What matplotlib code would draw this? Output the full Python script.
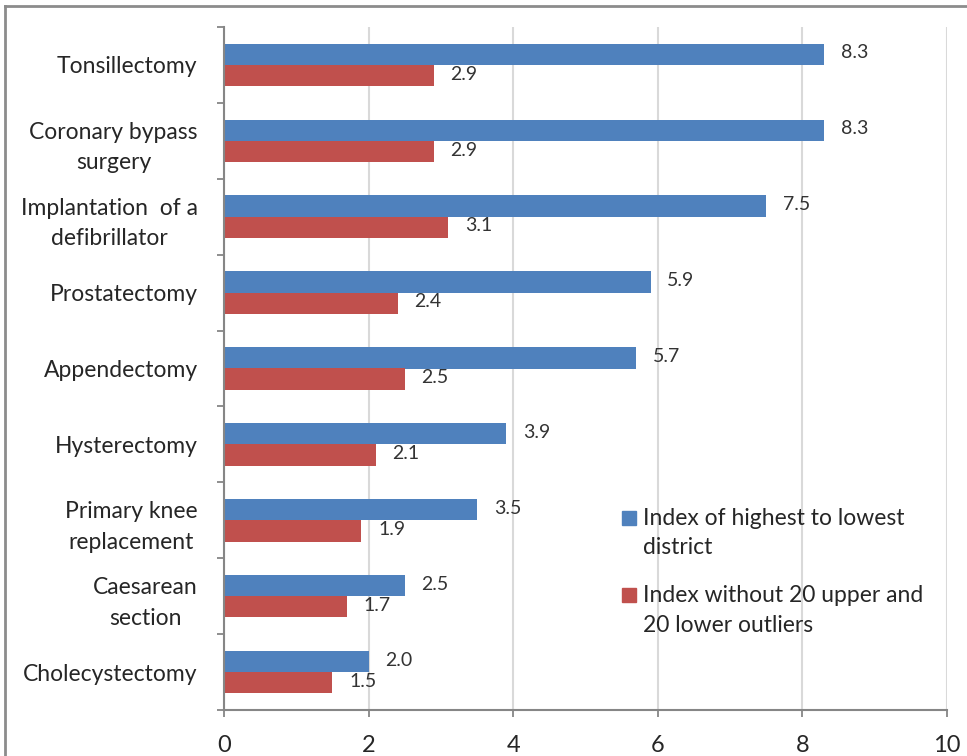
import numpy as np
import matplotlib
matplotlib.use('Agg')
import matplotlib.pyplot as plt
from matplotlib.lines import Line2D
from matplotlib.patches import Rectangle
from matplotlib.ticker import FixedLocator

plt.rcParams['font.family'] = ['Lato', 'DejaVu Sans']

# procedures, top to bottom
procedures = ['Tonsillectomy', 'Coronary bypass\nsurgery', 'Implantation  of a\ndefibrillator',
              'Prostatectomy', 'Appendectomy', 'Hysterectomy', 'Primary knee\nreplacement',
              'Caesarean\nsection', 'Cholecystectomy']
index_all = [8.3, 8.3, 7.5, 5.9, 5.7, 3.9, 3.5, 2.5, 2.0]
index_trim = [2.9, 2.9, 3.1, 2.4, 2.5, 2.1, 1.9, 1.7, 1.5]
series_names = ['Index of highest to lowest\ndistrict',
                'Index without 20 upper and\n20 lower outliers']
xticks = [0, 2, 4, 6, 8, 10]

BLUE = '#4F81BD'
RED = '#C0504D'
GRAY = '#868686'
TXT = '#262626'

fig = plt.figure(figsize=(9.67, 7.56), dpi=100)
ax = fig.add_axes([224/967, 1 - 710/756, (947 - 224)/967, (710 - 27)/756])

y = np.arange(len(procedures))
h = 0.28
b1 = ax.barh(y - h/2, index_all, height=h, color=BLUE, zorder=2)
b2 = ax.barh(y + h/2, index_trim, height=h, color=RED, zorder=2)

for bars, vals in ((b1, index_all), (b2, index_trim)):
    for bar, v in zip(bars, vals):
        ax.annotate('%.1f' % v, (bar.get_width(), bar.get_y() + bar.get_height()/2),
                    xytext=(12, 1), textcoords='offset points', ha='left', va='center',
                    fontsize=14, color='#333333')

ax.set_xlim(0, 10)
ax.set_ylim(len(procedures) - 0.5, -0.5)
ax.set_xticks(xticks)
ax.set_xticklabels([str(t) for t in xticks], fontsize=17)
ax.set_yticks(y)
ax.set_yticklabels(procedures, fontsize=16.5)
for lbl in ax.get_yticklabels():
    lbl.set_multialignment('center')
    lbl.set_linespacing(1.55)
ax.yaxis.set_minor_locator(FixedLocator(np.arange(len(procedures) + 1) - 0.5))
ax.tick_params(axis='y', which='major', length=0, pad=19, colors=TXT)
ax.tick_params(axis='y', which='minor', length=5, width=1.3, color=GRAY)
ax.tick_params(axis='x', length=5, width=1.3, color=GRAY, pad=13, labelcolor=TXT)

ax.grid(axis='x', color='#d9d9d9', linewidth=1.5, zorder=0)
ax.set_axisbelow(True)
for s in ['top', 'right']:
    ax.spines[s].set_visible(False)
for s in ['left', 'bottom']:
    ax.spines[s].set_color(GRAY)
    ax.spines[s].set_linewidth(1.5)

# legend, Excel style: square next to first line of each entry
for i, (name, col) in enumerate(zip(series_names, [BLUE, RED])):
    yc = 1 - (518 + 77*i)/756
    fig.patches.append(Rectangle((622/967, yc - 7/756), 14/967, 14/756,
                                 transform=fig.transFigure, color=col))
    fig.text(643/967, yc + 10/756, name, transform=fig.transFigure, ha='left', va='top',
             fontsize=16.5, color=TXT, linespacing=1.5)

# outer chart frame
fig.add_artist(Line2D([5/967, 5/967], [0, 1 - 6/756], transform=fig.transFigure, color='#8c8c8c', lw=2))
fig.add_artist(Line2D([5/967, 1], [1 - 6/756, 1 - 6/756], transform=fig.transFigure, color='#8c8c8c', lw=2))

plt.savefig('out.png', dpi=100)
